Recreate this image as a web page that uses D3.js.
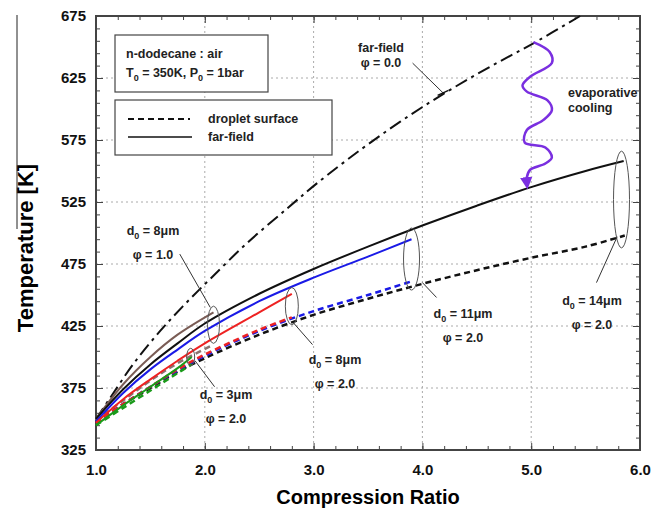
<!DOCTYPE html>
<html>
<head>
<meta charset="utf-8">
<script src="https://cdn.jsdelivr.net/npm/d3@7"></script>
<style>
	body { margin: 0; background: #fff; }
	svg { font-family: "Liberation Sans", Arial, sans-serif; font-weight: bold; }
</style>
</head>
<body>
<svg id="chart" width="670" height="513"></svg>
<script>
// data: [compression ratio, temperature K]
const farFieldPhi0 = [[1.0,350],[1.13,367],[1.34,394],[1.59,421],[1.8,441],[2.05,463],[2.39,492],[2.76,520],[3.03,540],[3.43,567],[3.8,590],[4.19,612],[4.6,633],[5.02,653],[5.45,675]];
const farField14 = [[1.0,350],[1.25,374],[1.5,394],[1.75,411],[2.0,427],[2.5,451],[3.0,471],[3.5,489],[4.0,506],[4.5,522],[5.0,537],[5.5,550],[5.85,558]];
const farField11 = [[1.0,348],[1.25,371],[1.5,390],[1.75,406],[2.0,421],[2.5,445],[3.0,464],[3.5,481],[3.9,495]];
const farField8 = [[1.0,347],[1.25,366],[1.5,382],[1.75,397],[2.0,411],[2.5,436],[2.8,451]];
const farField8phi1 = [[1.0,350],[1.25,378],[1.5,400],[1.75,418],[2.08,436]];
const farField3 = [[1.0,345],[1.25,361],[1.5,376],[1.75,391],[1.88,400]];
const surface14 = [[1.0,347],[1.25,362],[1.5,375],[1.75,388],[2.0,399],[2.5,418],[3.0,434],[3.5,447],[4.0,459],[4.5,470],[5.0,480],[5.5,489],[5.86,498]];
const surface11 = [[1.0,347],[1.25,362],[1.5,376],[1.75,389],[2.0,401],[2.5,421],[3.0,437],[3.5,450],[3.9,461]];
const surface8 = [[1.0,347],[1.25,362],[1.5,376],[1.75,390],[2.0,402],[2.5,422],[2.8,432]];
const surface8phi1 = [[1.0,349],[1.25,365],[1.5,381],[1.75,395],[2.08,410]];
const surface3 = [[1.0,345],[1.25,359],[1.5,373],[1.75,387],[1.88,394]];
const coolingWave = [[5.02,654],[5.17,646],[5.19,637],[4.99,626],[4.92,619],[4.96,614],[5.15,607],[5.19,599],[5.11,591],[4.96,583],[4.94,573],[5.13,569],[5.19,561],[5.13,556],[4.99,551],[4.96,545],[4.96,540]];

const xTicks = [1, 2, 3, 4, 5, 6];
const yTicks = [325, 375, 425, 475, 525, 575, 625, 675];

const margin = { top: 16, right: 30, bottom: 63, left: 96 };
const width = 670, height = 513;
const svg = d3.select('#chart');

let xScale = d3.scaleLinear().domain([1, 6]).range([margin.left, width - margin.right]);
let yScale = d3.scaleLinear().domain([325, 675]).range([height - margin.bottom, margin.top]);

let x0 = xScale(1), x1 = xScale(6), y0 = yScale(325), y1 = yScale(675);

// grid
let grid = svg.append('g').style('stroke', '#aaa').style('stroke-dasharray', '2,3').style('stroke-width', 1);
xTicks.slice(1, -1).forEach(function(t) {
	grid.append('line').attr('x1', xScale(t)).attr('x2', xScale(t)).attr('y1', y1).attr('y2', y0);
});
yTicks.slice(1, -1).forEach(function(t) {
	grid.append('line').attr('x1', x0).attr('x2', x1).attr('y1', yScale(t)).attr('y2', yScale(t));
});

// axes with inward ticks on all sides
function addAxis(axis, tx, ty) {
	let g = svg.append('g').attr('transform', 'translate(' + tx + ',' + ty + ')').call(axis);
	g.select('.domain').remove();
	g.selectAll('line').style('stroke', '#444');
	return g;
}
let xMinor = d3.range(1, 6.001, 0.2);
let yMinor = d3.range(325, 675.1, 10);

addAxis(d3.axisBottom(xScale).tickValues(xMinor).tickSize(-4).tickFormat(''), 0, y0);
addAxis(d3.axisTop(xScale).tickValues(xMinor).tickSize(-4).tickFormat(''), 0, y1);
addAxis(d3.axisLeft(yScale).tickValues(yMinor).tickSize(-4).tickFormat(''), x0, 0);
addAxis(d3.axisRight(yScale).tickValues(yMinor).tickSize(-4).tickFormat(''), x1, 0);

let xAxis = addAxis(d3.axisBottom(xScale).tickValues(xTicks).tickSize(-7).tickPadding(14).tickFormat(d3.format('.1f')), 0, y0);
xAxis.selectAll('text').style('font-size', '15px').style('font-weight', 'bold').style('fill', '#111').style('font-family', 'Liberation Sans, Arial, sans-serif');
let yAxis = addAxis(d3.axisLeft(yScale).tickValues(yTicks).tickSize(-7).tickPadding(10), x0, 0);
yAxis.selectAll('text').style('font-size', '15px').style('font-weight', 'bold').style('fill', '#111').style('font-family', 'Liberation Sans, Arial, sans-serif');
addAxis(d3.axisTop(xScale).tickValues(xTicks).tickSize(-7).tickFormat(''), 0, y1);
addAxis(d3.axisRight(yScale).tickValues(yTicks).tickSize(-7).tickFormat(''), x1, 0);

svg.append('rect')
	.attr('x', x0).attr('y', y1).attr('width', x1 - x0).attr('height', y0 - y1)
	.style('fill', 'none').style('stroke', '#444').style('stroke-width', 2);

// axis titles
svg.append('text')
	.attr('x', (x0 + x1) / 2).attr('y', 504)
	.style('text-anchor', 'middle').style('font-size', '20px')
	.text('Compression Ratio');
svg.append('text')
	.attr('transform', 'translate(33,248) rotate(-90)')
	.style('text-anchor', 'middle').style('font-size', '22px')
	.text('Temperature  [K]');
svg.append('line').attr('x1', 17).attr('x2', 17).attr('y1', 15).attr('y2', 229)
	.style('stroke', '#222').style('stroke-width', 1);

// curves
let line = d3.line()
	.x(function(d) { return xScale(d[0]); })
	.y(function(d) { return yScale(d[1]); })
	.curve(d3.curveCatmullRom);

function drawLine(data, color, dash, w) {
	svg.append('path')
		.datum(data)
		.attr('d', line)
		.style('fill', 'none')
		.style('stroke', color)
		.style('stroke-width', w)
		.style('stroke-dasharray', dash);
}

drawLine(farFieldPhi0, '#111', '13,5,3,5', 2);
drawLine(surface14, '#111', '6,4', 2.5);
drawLine(surface8phi1, '#8a7470', '6,4', 2.5);
drawLine(surface11, '#1a1ae6', '6,4', 2.5);
drawLine(surface8, '#ee2222', '6,4', 2.5);
drawLine(surface3, '#1a9a1a', '6,4', 2.5);
drawLine(farField8phi1, '#7a5c55', null, 2);
drawLine(farField14, '#111', null, 2);
drawLine(farField11, '#1a1ae6', null, 2);
drawLine(farField8, '#ee2222', null, 2);
drawLine(farField3, '#1a9a1a', null, 2);

// ellipses and pointers
const ellipses = [[2.08, 426, 6, 15], [2.80, 441, 6.5, 15], [3.90, 479, 8, 25], [5.83, 527, 8, 39], [1.87, 400, 4, 7]];
ellipses.forEach(function(e) {
	svg.append('ellipse')
		.attr('cx', xScale(e[0])).attr('cy', yScale(e[1]))
		.attr('rx', e[2]).attr('ry', yScale(0) - yScale(e[3]))
		.style('fill', 'none').style('stroke', '#555').style('stroke-width', 1);
});
const pointers = [[[1.77, 483], [2.05, 440]], [[3.91, 637], [4.19, 613]], [[2.81, 428], [2.99, 410]], [[1.91, 397], [2.09, 376]], [[4.0, 460], [4.13, 448]], [[5.79, 497], [5.60, 460]]];
pointers.forEach(function(p) {
	svg.append('line')
		.attr('x1', xScale(p[0][0])).attr('y1', yScale(p[0][1]))
		.attr('x2', xScale(p[1][0])).attr('y2', yScale(p[1][1]))
		.style('stroke', '#333').style('stroke-width', 1);
});
// small crossbar where the pointer meets the phi=0 line
svg.append('line')
	.attr('x1', xScale(4.14)).attr('y1', yScale(611)).attr('x2', xScale(4.24)).attr('y2', yScale(615))
	.style('stroke', '#111').style('stroke-width', 1.5);

// evaporative cooling arrow
svg.append('defs').append('marker')
	.attr('id', 'head').attr('viewBox', '0 0 10 10').attr('refX', 5).attr('refY', 5)
	.attr('markerWidth', 5).attr('markerHeight', 6).attr('orient', 'auto')
	.append('path').attr('d', 'M0,0L10,5L0,10Z').style('fill', '#7a2fe0');
svg.append('path')
	.datum(coolingWave)
	.attr('d', d3.line().x(function(d) { return xScale(d[0]); }).y(function(d) { return yScale(d[1]); }).curve(d3.curveCatmullRom))
	.attr('marker-end', 'url(#head)')
	.style('fill', 'none').style('stroke', '#7a2fe0').style('stroke-width', 2.5);

// annotation text
function label(x, y, lines, anchor) {
	let t = svg.append('text').attr('x', x).attr('y', y)
		.style('font-size', '12.5px').style('text-anchor', anchor || 'middle').style('fill', '#222');
	lines.forEach(function(l, i) {
		t.append('tspan').attr('x', x).attr('dy', i == 0 ? 0 : 15).text(l);
	});
	return t;
}
function dLabel(x, y, size, phi) {
	let t = svg.append('text').attr('x', x).attr('y', y)
		.style('font-size', '12.5px').style('text-anchor', 'middle').style('fill', '#222');
	t.append('tspan').text('d');
	t.append('tspan').attr('dy', 4).style('font-size', '9px').text('0');
	t.append('tspan').attr('dy', -4).text(' = ' + size + 'μm');
	svg.append('text').attr('x', x).attr('y', y + 24)
		.style('font-size', '12.5px').style('text-anchor', 'middle').style('fill', '#222')
		.text('φ = ' + phi);
}
label(381, 52, ['far-field', 'φ = 0.0']);
label(568, 97, ['evaporative', 'cooling'], 'start');
dLabel(153, 235, '8', '1.0');
dLabel(335, 364, '8', '2.0');
dLabel(463, 318, '11', '2.0');
dLabel(592, 305, '14', '2.0');
dLabel(226, 399, '3', '2.0');

// info boxes
svg.append('rect').attr('x', 115).attr('y', 35).attr('width', 153).attr('height', 57)
	.style('fill', '#fff').style('stroke', '#444').style('stroke-width', 1.2);
svg.append('text').attr('x', 126).attr('y', 58).style('font-size', '12.5px').style('fill', '#222').text('n-dodecane : air');
let t0 = svg.append('text').attr('x', 126).attr('y', 77).style('font-size', '12.5px').style('fill', '#222');
t0.append('tspan').text('T');
t0.append('tspan').attr('dy', 4).style('font-size', '9px').text('0');
t0.append('tspan').attr('dy', -4).text(' = 350K, P');
t0.append('tspan').attr('dy', 4).style('font-size', '9px').text('0');
t0.append('tspan').attr('dy', -4).text(' = 1bar');

svg.append('rect').attr('x', 115).attr('y', 100).attr('width', 217).attr('height', 55)
	.style('fill', '#fff').style('stroke', '#444').style('stroke-width', 1.2);
svg.append('line').attr('x1', 128).attr('x2', 190).attr('y1', 119).attr('y2', 119)
	.style('stroke', '#111').style('stroke-width', 2).style('stroke-dasharray', '6,4');
svg.append('line').attr('x1', 128).attr('x2', 192).attr('y1', 137).attr('y2', 137)
	.style('stroke', '#111').style('stroke-width', 1.5);
svg.append('text').attr('x', 208).attr('y', 123).style('font-size', '12.5px').style('fill', '#222').text('droplet surface');
svg.append('text').attr('x', 208).attr('y', 141).style('font-size', '12.5px').style('fill', '#222').text('far-field');
</script>
</body>
</html>
